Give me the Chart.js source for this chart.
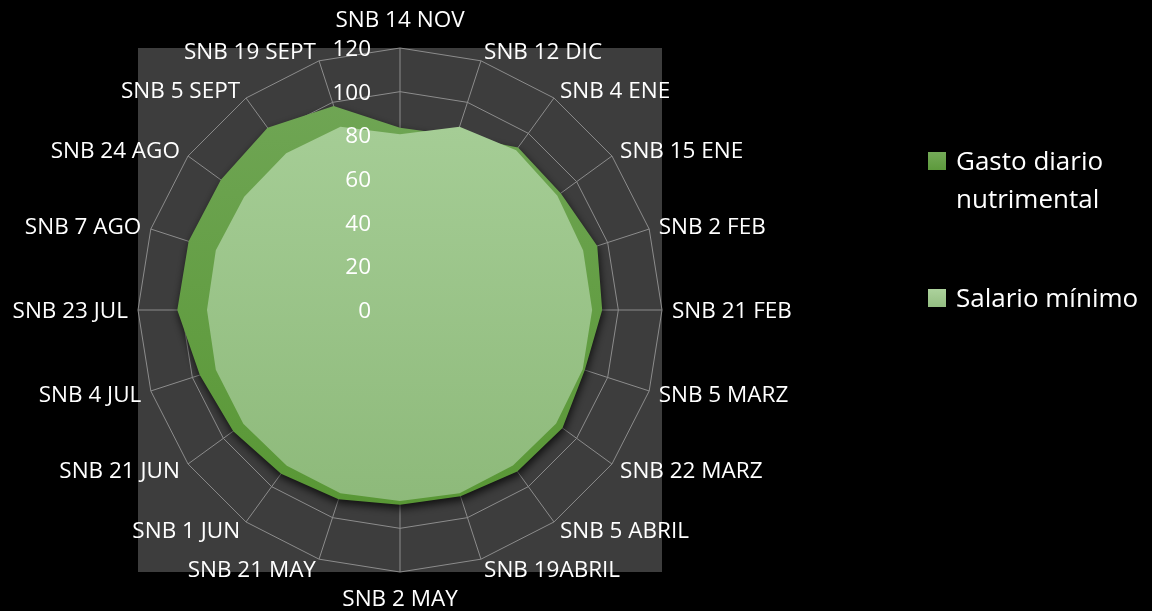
<!DOCTYPE html>
<html>
<head>
<meta charset="utf-8">
<script src="https://cdn.jsdelivr.net/npm/chart.js@4/dist/chart.umd.min.js"></script>
<style>
  html, body { margin: 0; padding: 0; background: #000; }
  #wrap { position: relative; width: 1152px; height: 611px; background: #000; overflow: hidden; }
  #c { position: absolute; left: 0; top: 0; }
  .key { position: absolute; width: 18px; height: 18px; }
  .ltxt { position: absolute; color: #fff; font-family: "Open Sans", sans-serif; font-size: 26px; line-height: 37.5px; white-space: nowrap; }
</style>
</head>
<body>
<div id="wrap">
  <canvas id="c" width="1152" height="611"></canvas>
  <div class="key" style="left:928px;top:152px;background:linear-gradient(#74aa58,#5d9a3c);"></div>
  <div class="ltxt" style="left:956px;top:142px;">Gasto diario<br>nutrimental</div>
  <div class="key" style="left:928px;top:289px;background:linear-gradient(#acd29c,#94be82);"></div>
  <div class="ltxt" style="left:956px;top:278.5px;">Salario mínimo</div>
</div>
<script>
// ---- data ----
const categories = ['SNB 14 NOV','SNB 12 DIC','SNB 4 ENE','SNB 15 ENE','SNB 2 FEB','SNB 21 FEB','SNB 5 MARZ','SNB 22 MARZ','SNB 5 ABRIL','SNB 19ABRIL','SNB 2 MAY','SNB 21 MAY','SNB 1 JUN','SNB 21 JUN','SNB 4 JUL','SNB 23 JUL','SNB 7 AGO','SNB 24 AGO','SNB 5 SEPT','SNB 19 SEPT'];
const gastoDiario = [83.5, 84, 92, 91, 95, 92.6, 89, 92, 91.4, 89.7, 89.2, 91.1, 92.7, 94.4, 96.4, 102, 101.8, 101.4, 103.2, 98.3];
const salarioMinimo = [80.5, 88.3, 90.5, 89.1, 88.2, 88, 88, 88.4, 88, 88.3, 87.5, 88.3, 88.2, 88.7, 88.7, 88.4, 88.7, 88.2, 88.7, 88.2];
const seriesNames = ['Gasto diario nutrimental', 'Salario mínimo'];
const tickValues = [0, 20, 40, 60, 80, 100, 120];

// ---- styles ----
const FONT = '"Open Sans", sans-serif';
const LABEL_SIZE = 22.5;
const GRID = '#8c8c8c';
const PLOT_BG = '#3d3d3d';

function vGrad(chart, top, bottom) {
  const a = chart.chartArea;
  if (!a) return bottom;
  const g = chart.ctx.createLinearGradient(0, a.top, 0, a.bottom);
  g.addColorStop(0, top);
  g.addColorStop(1, bottom);
  return g;
}

const plotBg = {
  id: 'plotBg',
  beforeDraw(chart) {
    const { ctx, chartArea: a } = chart;
    ctx.save();
    ctx.fillStyle = '#000';
    ctx.fillRect(0, 0, chart.width, chart.height);
    ctx.fillStyle = PLOT_BG;
    ctx.fillRect(a.left, a.top, a.right - a.left, a.bottom - a.top);
    ctx.restore();
  }
};

const shadow = {
  id: 'shadow',
  beforeDatasetsDraw(chart) {
    const ctx = chart.ctx;
    ctx.shadowColor = 'rgba(0,0,0,0.75)';
    ctx.shadowBlur = 8;
    ctx.shadowOffsetX = 1;
    ctx.shadowOffsetY = 4;
  },
  afterDatasetDraw(chart, args) {
    if (args.index === 0) {
      const ctx = chart.ctx;
      ctx.shadowColor = 'rgba(0,0,0,0)';
      ctx.shadowBlur = 0;
      ctx.shadowOffsetX = 0;
      ctx.shadowOffsetY = 0;
    }
  },
  afterDatasetsDraw(chart) {
    const ctx = chart.ctx;
    ctx.shadowColor = 'rgba(0,0,0,0)';
    ctx.shadowBlur = 0;
    ctx.shadowOffsetX = 0;
    ctx.shadowOffsetY = 0;
  }
};

const textLayer = {
  id: 'textLayer',
  afterDatasetsDraw(chart) {
    const ctx = chart.ctx;
    const s = chart.scales.r;
    const capHalf = LABEL_SIZE * 0.357;
    ctx.save();
    ctx.fillStyle = '#ffffff';
    ctx.font = LABEL_SIZE + 'px ' + FONT;
    ctx.textBaseline = 'alphabetic';
    // radial tick labels
    ctx.textAlign = 'right';
    tickValues.forEach(v => {
      const d = s.getDistanceFromCenterForValue(v);
      ctx.fillText(String(v), s.xCenter - 29, s.yCenter - d + capHalf);
    });
    // point labels
    const n = categories.length;
    categories.forEach((lab, i) => {
      const p = s.getPointPosition(i, s.drawingArea + 10);
      const deg = Math.round(i * 360 / n);
      let align = 'left', dy = 0;
      if (deg === 0) { align = 'center'; dy = -19; }
      else if (deg === 180) { align = 'center'; dy = 15.5; }
      else if (deg > 180) { align = 'right'; }
      ctx.textAlign = align;
      ctx.fillText(lab, p.x, p.y + dy + capHalf);
    });
    ctx.restore();
  }
};

new Chart(document.getElementById('c'), {
  type: 'radar',
  data: {
    labels: categories,
    datasets: [
      {
        label: seriesNames[0],
        data: gastoDiario,
        order: 2,
        fill: true,
        backgroundColor: (c) => vGrad(c.chart, '#72a758', '#559530'),
        borderWidth: 0,
        pointRadius: 0,
        pointHoverRadius: 0
      },
      {
        label: seriesNames[1],
        data: salarioMinimo,
        order: 1,
        fill: true,
        backgroundColor: (c) => vGrad(c.chart, '#aad19b', '#89b675'),
        borderWidth: 0,
        pointRadius: 0,
        pointHoverRadius: 0
      }
    ]
  },
  options: {
    responsive: false,
    devicePixelRatio: 1,
    animation: false,
    layout: { padding: { left: 138, right: 490, top: 48, bottom: 39 } },
    plugins: { legend: { display: false }, tooltip: { enabled: false } },
    scales: {
      r: {
        min: 0,
        max: 120,
        ticks: { display: false, stepSize: 20 },
        pointLabels: { display: false },
        grid: { color: GRID, lineWidth: 1 },
        angleLines: { color: GRID, lineWidth: 1 }
      }
    }
  },
  plugins: [plotBg, shadow, textLayer]
});
</script>
</body>
</html>
